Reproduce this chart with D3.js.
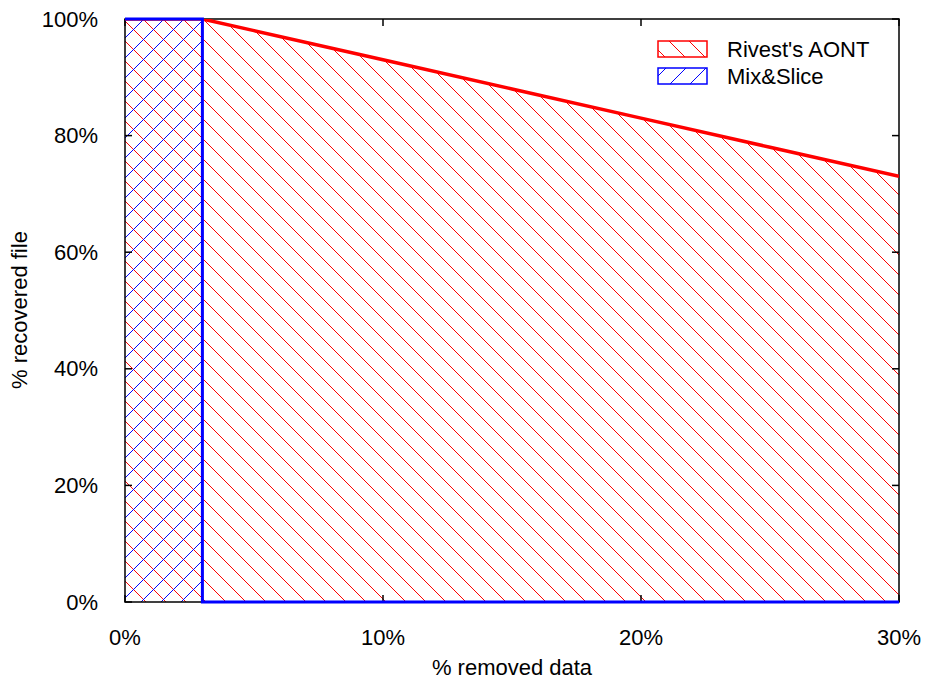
<!doctype html>
<html>
<head>
<meta charset="utf-8">
<style>
    body { margin: 0; background: #fff; }
    text { font-family: "Liberation Sans", Arial, sans-serif; font-size: 22px; fill: #000; }
    .hatch line { shape-rendering: crispEdges; }
</style>
<script src="https://d3js.org/d3.v7.min.js"></script>
</head>
<body>
<svg id="chart" width="925" height="679"></svg>
<script>
    // data (% removed data -> % recovered file)
    var rivestX = [0, 3, 5, 10, 15, 20, 25, 30];
    var rivestY = [100, 100, 98, 93, 88, 83, 78, 73];
    var mixX = [0, 3, 3, 30];
    var mixY = [100, 100, 0, 0];
    var xTicks = [0, 10, 20, 30];
    var yTicks = [0, 20, 40, 60, 80, 100];
    var seriesNames = ["Rivest's AONT", "Mix&Slice"];
    var seriesColors = ["#ff0000", "#0000ff"];

    var svg = d3.select("#chart"),
        marginLeft = 125, marginTop = 19,
        width = 899 - marginLeft,
        height = 602 - marginTop;

    var x = d3.scaleLinear().domain([0, 30]).range([0, width]),
        y = d3.scaleLinear().domain([0, 100]).range([height, 0]);

    var defs = svg.append("defs");

    var rivest = rivestX.map(function(d, i) { return [d, rivestY[i]]; });
    var mix = mixX.map(function(d, i) { return [d, mixY[i]]; });

    var area = d3.area()
        .x(function(d) { return x(d[0]); })
        .y0(y(0))
        .y1(function(d) { return y(d[1]); });
    var line = d3.line()
        .x(function(d) { return x(d[0]); })
        .y(function(d) { return y(d[1]); });

    // hatch lines drawn into a region; dir 1 = "\", -1 = "/"
    function hatch(parent, clipId, x0, y0, w, h, dir, offset, color) {
        var gg = parent.append("g").attr("class", "hatch").attr("clip-path", "url(#" + clipId + ")");
        var step = 20;
        for (var c = -h - 2 * step + offset; c < w + h + step; c += step) {
            gg.append("line")
              .attr("x1", x0 + c + 0.5).attr("y1", y0 + 0.5)
              .attr("x2", x0 + c + dir * h + 0.5).attr("y2", y0 + h + 0.5)
              .attr("stroke", color).attr("stroke-width", 1);
        }
    }

    var g = svg.append("g").attr("transform", "translate(" + marginLeft + "," + marginTop + ")");

    defs.append("clipPath").attr("id", "clipRivest")
        .append("path").datum(rivest).attr("d", area);
    defs.append("clipPath").attr("id", "clipMix")
        .append("path").datum(mix).attr("d", area);
    defs.append("clipPath").attr("id", "plotClip")
        .append("rect").attr("width", width).attr("height", height);

    hatch(g, "clipRivest", 0, 0, width, height, 1, 1, seriesColors[0]);
    hatch(g, "clipMix", 0, 0, width, height, -1, 1, seriesColors[1]);

    // frame and inward ticks (gnuplot style, mirrored)
    g.append("rect").attr("width", width).attr("height", height)
     .attr("fill", "none").attr("stroke", "#000").attr("stroke-width", 1.5);

    xTicks.forEach(function(t) {
        g.append("line").attr("x1", x(t)).attr("x2", x(t)).attr("y1", height).attr("y2", height - 7)
         .attr("stroke", "#000").attr("stroke-width", 1.5);
        g.append("line").attr("x1", x(t)).attr("x2", x(t)).attr("y1", 0).attr("y2", 7)
         .attr("stroke", "#000").attr("stroke-width", 1.5);
        g.append("text").attr("x", x(t)).attr("y", height + 43)
         .attr("text-anchor", "middle").text(t + "%");
    });
    yTicks.forEach(function(t) {
        g.append("line").attr("x1", 0).attr("x2", 7).attr("y1", y(t)).attr("y2", y(t))
         .attr("stroke", "#000").attr("stroke-width", 1.5);
        g.append("line").attr("x1", width).attr("x2", width - 7).attr("y1", y(t)).attr("y2", y(t))
         .attr("stroke", "#000").attr("stroke-width", 1.5);
        g.append("text").attr("x", -27).attr("y", y(t) + 7.5)
         .attr("text-anchor", "end").text(t + "%");
    });

    g.append("g").attr("clip-path", "url(#plotClip)")
     .append("path").datum(rivest).attr("d", line)
     .attr("fill", "none").attr("stroke", seriesColors[0]).attr("stroke-width", 3.5);
    g.append("path").datum(mix).attr("d", line)
     .attr("fill", "none").attr("stroke", seriesColors[1]).attr("stroke-width", 3);

    // axis titles
    svg.append("text").attr("x", 512).attr("y", 675)
       .attr("text-anchor", "middle").text("% removed data");
    svg.append("text").attr("transform", "translate(27,310) rotate(-90)")
       .attr("text-anchor", "middle").text("% recovered file");

    // legend
    var legend = svg.append("g").attr("transform", "translate(658,41)");
    seriesNames.forEach(function(name, i) {
        var ly = i * 27;
        defs.append("clipPath").attr("id", "clipLeg" + i)
            .append("rect").attr("x", 0).attr("y", ly).attr("width", 49).attr("height", 16);
        hatch(legend, "clipLeg" + i, 0, ly, 49, 16, i === 0 ? 1 : -1, i === 0 ? 7 : 3, seriesColors[i]);
        legend.append("rect").attr("x", 0).attr("y", ly).attr("width", 49).attr("height", 16)
              .attr("fill", "none").attr("stroke", seriesColors[i]).attr("stroke-width", 1.5);
        legend.append("text").attr("x", 69).attr("y", ly + 16).text(name);
    });
</script>
</body>
</html>
